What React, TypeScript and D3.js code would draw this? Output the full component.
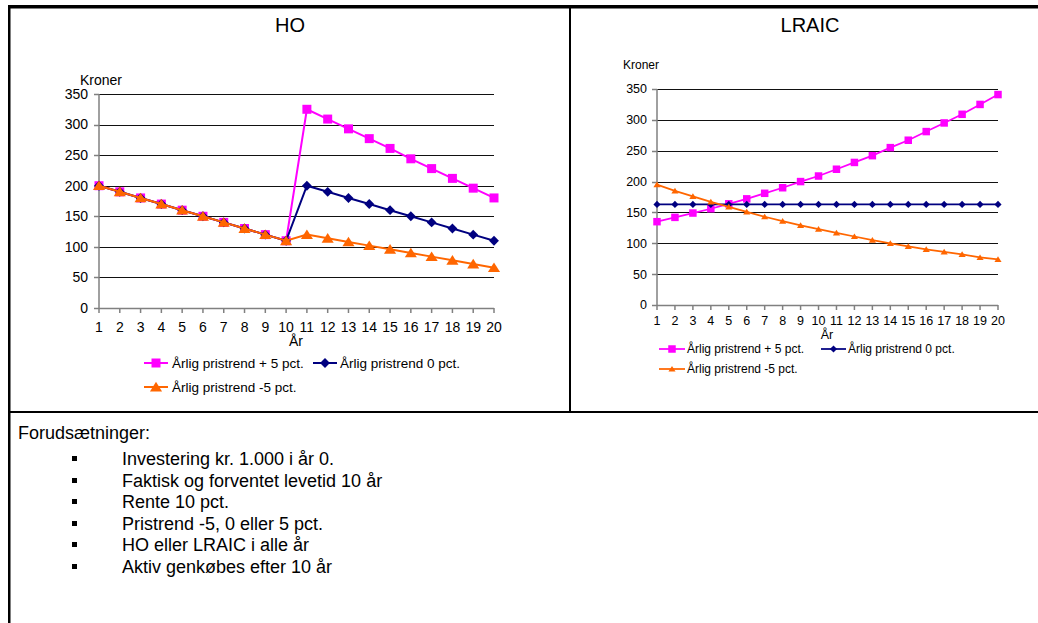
import React from "react";
import * as d3 from "d3";

const years = [1, 2, 3, 4, 5, 6, 7, 8, 9, 10, 11, 12, 13, 14, 15, 16, 17, 18, 19, 20];
const yTicks = [0, 50, 100, 150, 200, 250, 300, 350];

const hoPlus5 = [200, 190, 180, 170, 160, 150, 140, 130, 120, 110, 325, 309, 293, 277, 261, 244, 228, 212, 196, 180];
const hoZero = [200, 190, 180, 170, 160, 150, 140, 130, 120, 110, 200, 190, 180, 170, 160, 150, 140, 130, 120, 110];
const hoMinus5 = [200, 190, 180, 170, 160, 150, 140, 130, 120, 110, 120, 114, 108, 102, 96, 90, 84, 78, 72, 66];

const lraicPlus5 = [135, 142, 149, 156, 164, 172, 181, 190, 200, 209, 220, 231, 242, 255, 267, 281, 295, 309, 325, 341];
const lraicZero = [163, 163, 163, 163, 163, 163, 163, 163, 163, 163, 163, 163, 163, 163, 163, 163, 163, 163, 163, 163];
const lraicMinus5 = [195, 185, 176, 167, 159, 151, 143, 136, 129, 123, 117, 111, 105, 100, 95, 90, 86, 82, 77, 74];

const seriesNames = ["Årlig pristrend + 5 pct.", "Årlig pristrend 0 pct.", "Årlig pristrend -5 pct."];
const panelTitles = ["HO", "LRAIC"];
const yAxisTitle = "Kroner";
const xAxisTitle = "År";
const notesHeader = "Forudsætninger:";
const notes = [
  "Investering kr. 1.000 i år 0.",
  "Faktisk og forventet levetid 10 år",
  "Rente 10 pct.",
  "Pristrend -5, 0 eller 5 pct.",
  "HO eller LRAIC i alle år",
  "Aktiv genkøbes efter 10 år",
];

const FONT = "'Liberation Sans', Arial, Helvetica, sans-serif";
const PINK = "#FF00FF";
const NAVY = "#000080";
const ORANGE = "#FF6600";

type Kind = "square" | "diamond" | "triangle";

function markerPath(kind: Kind, s: number): string {
  const h = s / 2;
  if (kind === "square") return `M${-h},${-h}H${h}V${h}H${-h}Z`;
  if (kind === "diamond") return `M0,${-h * 1.1}L${h * 1.1},0L0,${h * 1.1}L${-h * 1.1},0Z`;
  return `M0,${-h * 0.95}L${h * 1.1},${h * 0.8}L${-h * 1.1},${h * 0.8}Z`;
}

interface PanelCfg {
  x0: number;
  x1: number;
  yTop: number;
  yBottom: number;
  tickFont: number;
  yLabelX: number;
  xLabelY: number;
  kronerX: number;
  kronerY: number;
  kronerFont: number;
  arX: number;
  arY: number;
  titleX: number;
  titleY: number;
  legendFont: number;
  legendRows: number[];
  legendItems: { x1: number; x2: number; tx: number; row: number }[];
  sizes: number[];
  lineW: number;
  title: string;
  series: number[][];
}

function Panel({ cfg }: { cfg: PanelCfg }) {
  const x = d3.scaleLinear().domain([1, 20]).range([cfg.x0, cfg.x1]);
  const y = d3.scaleLinear().domain([0, 350]).range([cfg.yBottom, cfg.yTop]);
  const colors = [PINK, NAVY, ORANGE];
  const kinds: Kind[] = ["square", "diamond", "triangle"];
  const line = d3
    .line<number>()
    .x((_, i) => x(years[i]))
    .y((d) => y(d));
  return (
    <g fontFamily={FONT}>
      <text x={cfg.titleX} y={cfg.titleY} fontSize={20} textAnchor="middle" dy="0.35em" fill="#000">
        {cfg.title}
      </text>
      {yTicks.map((t) => (
        <g key={t}>
          {t > 0 && (
            <line x1={cfg.x0 - 5} x2={cfg.x1} y1={Math.round(y(t)) + 0.5} y2={Math.round(y(t)) + 0.5} stroke="#111" strokeWidth={1} />
          )}
          <line x1={cfg.x0 - 5} x2={cfg.x0} y1={Math.round(y(t)) + 0.5} y2={Math.round(y(t)) + 0.5} stroke="#808080" strokeWidth={1.5} />
          <text x={cfg.yLabelX} y={y(t)} dy="0.35em" textAnchor="end" fontSize={cfg.tickFont} fill="#000">
            {t}
          </text>
        </g>
      ))}
      <line x1={cfg.x0} x2={cfg.x0} y1={cfg.yTop} y2={cfg.yBottom} stroke="#808080" strokeWidth={1.5} />
      <line x1={cfg.x0} x2={cfg.x1} y1={cfg.yBottom + 0.5} y2={cfg.yBottom + 0.5} stroke="#808080" strokeWidth={1.5} />
      {years.map((yr) => (
        <g key={yr}>
          <line x1={x(yr)} x2={x(yr)} y1={cfg.yBottom} y2={cfg.yBottom + 5} stroke="#808080" strokeWidth={1.5} />
          <text x={x(yr)} y={cfg.xLabelY} dy="0.35em" textAnchor="middle" fontSize={cfg.tickFont} fill="#000">
            {yr}
          </text>
        </g>
      ))}
      <text x={cfg.kronerX} y={cfg.kronerY} dy="0.35em" fontSize={cfg.kronerFont} fill="#000">
        {yAxisTitle}
      </text>
      <text x={cfg.arX} y={cfg.arY} dy="0.35em" textAnchor="middle" fontSize={cfg.tickFont} fill="#000">
        {xAxisTitle}
      </text>
      {cfg.series.map((s, si) => (
        <g key={si}>
          <path d={line(s) || ""} fill="none" stroke={colors[si]} strokeWidth={cfg.lineW} />
          {s.map((v, i) => (
            <path key={i} d={markerPath(kinds[si], cfg.sizes[si])} transform={`translate(${x(years[i])},${y(v)})`} fill={colors[si]} />
          ))}
        </g>
      ))}
      {cfg.legendItems.map((it, si) => (
        <g key={si}>
          <line x1={it.x1} x2={it.x2} y1={cfg.legendRows[it.row]} y2={cfg.legendRows[it.row]} stroke={colors[si]} strokeWidth={cfg.lineW} />
          <path d={markerPath(kinds[si], cfg.sizes[si])} transform={`translate(${(it.x1 + it.x2) / 2},${cfg.legendRows[it.row]})`} fill={colors[si]} />
          <text x={it.tx} y={cfg.legendRows[it.row]} dy="0.35em" fontSize={cfg.legendFont} fill="#000">
            {seriesNames[si]}
          </text>
        </g>
      ))}
    </g>
  );
}

export default function App() {
  const ho: PanelCfg = {
    x0: 99,
    x1: 494,
    yTop: 94,
    yBottom: 308,
    tickFont: 14,
    yLabelX: 88,
    xLabelY: 327,
    kronerX: 80,
    kronerY: 80,
    kronerFont: 14,
    arX: 296,
    arY: 341,
    titleX: 290,
    titleY: 25,
    legendFont: 13.5,
    legendRows: [363, 387],
    legendItems: [
      { x1: 144, x2: 168, tx: 172, row: 0 },
      { x1: 313, x2: 337, tx: 340, row: 0 },
      { x1: 144, x2: 168, tx: 172, row: 1 },
    ],
    sizes: [9, 9, 11],
    lineW: 2,
    title: panelTitles[0],
    series: [hoPlus5, hoZero, hoMinus5],
  };
  const lr: PanelCfg = {
    x0: 657,
    x1: 998,
    yTop: 89,
    yBottom: 305,
    tickFont: 12.5,
    yLabelX: 647,
    xLabelY: 321,
    kronerX: 623,
    kronerY: 65,
    kronerFont: 12,
    arX: 827,
    arY: 335,
    titleX: 810,
    titleY: 25,
    legendFont: 12,
    legendRows: [349, 369],
    legendItems: [
      { x1: 659, x2: 685, tx: 687, row: 0 },
      { x1: 821, x2: 846, tx: 848, row: 0 },
      { x1: 659, x2: 685, tx: 687, row: 1 },
    ],
    sizes: [7.5, 6.5, 6.5],
    lineW: 1.75,
    title: panelTitles[1],
    series: [lraicPlus5, lraicZero, lraicMinus5],
  };
  const noteRows = [459, 481, 502, 524, 545, 567];
  return (
    <svg width={1038} height={623} style={{ position: "absolute", left: 0, top: 0, background: "#fff" }}>
      <rect x={0} y={0} width={1038} height={623} fill="#fff" />
      <rect x={8} y={5} width={1030} height={3.5} fill="#000" />
      <rect x={8} y={5} width={2.5} height={618} fill="#000" />
      <rect x={569} y={5} width={2} height={407} fill="#000" />
      <rect x={8} y={411} width={1030} height={2} fill="#000" />
      <Panel cfg={ho} />
      <Panel cfg={lr} />
      <g fontFamily={FONT} fontSize={18} fill="#000">
        <text x={18} y={433} dy="0.35em">
          {notesHeader}
        </text>
        {notes.map((n, i) => (
          <g key={i}>
            <rect x={72} y={noteRows[i] - 3} width={5} height={5} fill="#000" />
            <text x={122} y={noteRows[i]} dy="0.35em">
              {n}
            </text>
          </g>
        ))}
      </g>
    </svg>
  );
}
